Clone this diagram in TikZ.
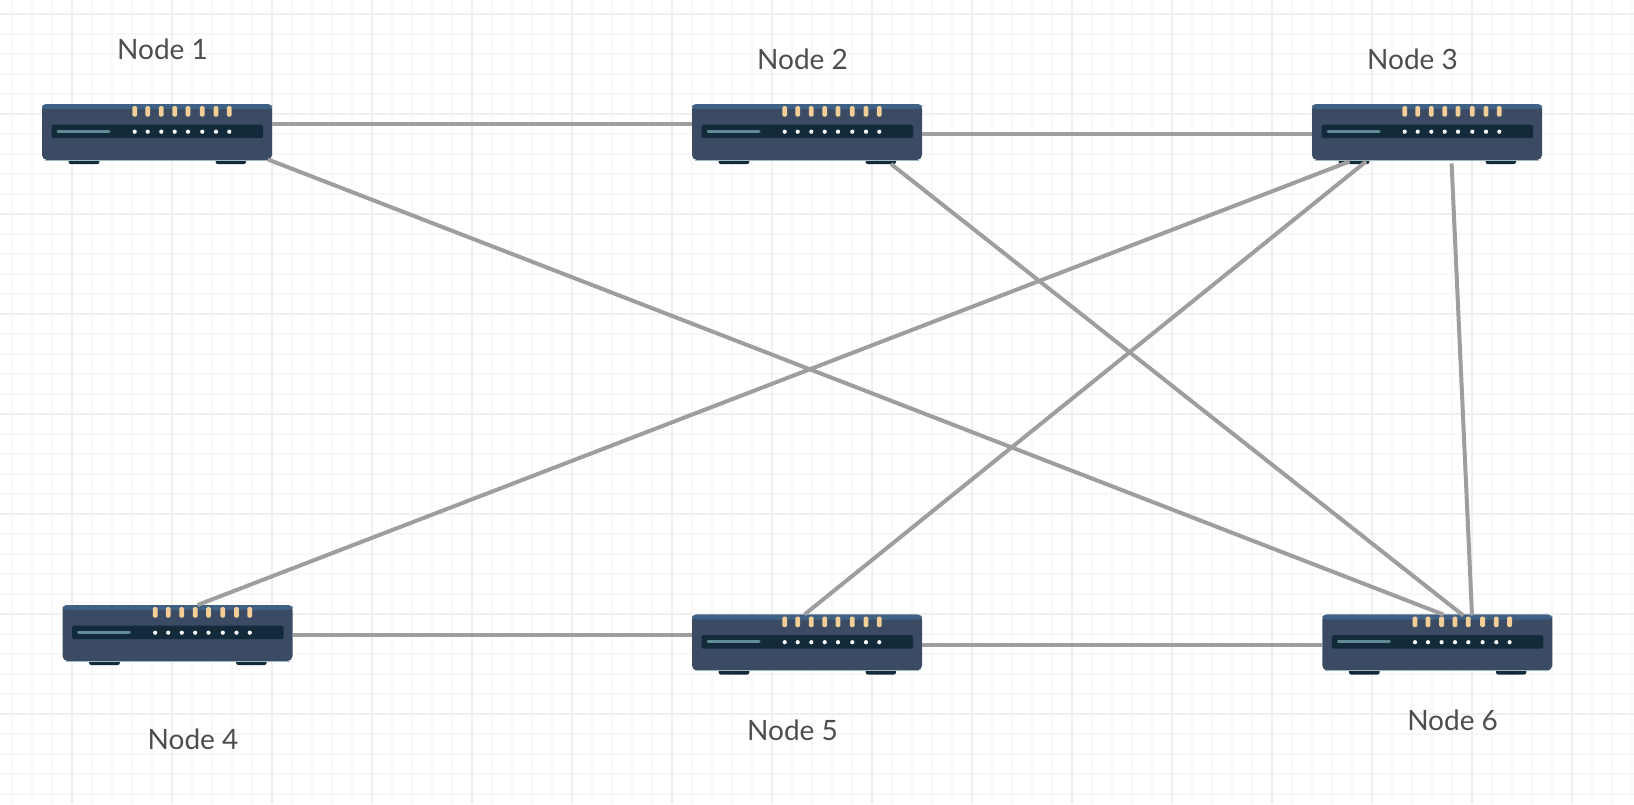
\documentclass[tikz,border=0pt]{standalone}
\usepackage{fontspec}
\setmainfont{Lato}
\usetikzlibrary{calc}
\definecolor{gridminor}{HTML}{F8F8F8}
\definecolor{gridmajor}{HTML}{F0F0F0}
\definecolor{bodyc}{HTML}{3A4B63}
\definecolor{bandc}{HTML}{3F6186}
\definecolor{panelc}{HTML}{122A3A}
\definecolor{barc}{HTML}{5F8B96}
\definecolor{ledc}{HTML}{F3CE97}
\definecolor{linkc}{HTML}{9E9E9E}
\definecolor{textc}{HTML}{4D4D4D}
\tikzset{
  x=1pt,y=-1pt,
  routerbody/.style={anchor=north west,fill=bodyc,draw=none,rounded corners=5pt,minimum width=230pt,minimum height=56pt,inner sep=0pt,outer sep=0pt},
  link/.style={draw=linkc,line width=4pt},
  nodelabel/.style={text=textc,font=\fontsize{28}{32}\selectfont,inner sep=0pt},
  minorgrid/.style={draw=gridminor,line width=1.6pt},
  majorgrid/.style={draw=gridmajor,line width=1.6pt},
}
\newcommand{\routerat}[3]{%
  \begin{scope}[shift={(#2,#3)}]
    \fill[panelc,rounded corners=2pt] (26.7,52) rectangle (57.3,60);
    \fill[panelc,rounded corners=2pt] (173.7,52) rectangle (204,60);
    \node[routerbody] (#1) at (0,0) {};
    \fill[bandc,rounded corners=4pt] (0,0) -- (230,0) -- (230,5) -- (0,5) -- cycle;
    \draw[barc!60!white,line width=0.6pt] (3,56) -- (227,56);
    \fill[panelc,rounded corners=1.5pt] (9.5,20.7) rectangle (221,34);
    \draw[barc,line width=3pt,line cap=round] (16,27) -- (67,27);
    \foreach \lx in {92.7,105.7,119.3,132.7,146,160.3,174,187.3}{
      \fill[ledc,rounded corners=1.5pt] (\lx-2.4,2) rectangle (\lx+2.4,12.7);
      \fill[white] (\lx,27.7) circle (2.1);
    }
  \end{scope}}
\begin{document}
\begin{tikzpicture}
\useasboundingbox (0,0) rectangle (1634,804);
\fill[white] (0,0) rectangle (1634,804);
\foreach \gx in {12,32,...,1632}{\draw[minorgrid] (\gx,0) -- (\gx,804);}
\foreach \gy in {14,34,...,794}{\draw[minorgrid] (0,\gy) -- (1634,\gy);}
\foreach \gx in {72,172,...,1632}{\draw[majorgrid] (\gx,0) -- (\gx,804);}
\foreach \gy in {14,114,...,794}{\draw[majorgrid] (0,\gy) -- (1634,\gy);}
\routerat{n1}{42}{104}
\routerat{n2}{692}{104}
\routerat{n3}{1312}{104}
\routerat{n4}{62.5}{605}
\routerat{n5}{692}{614.5}
\routerat{n6}{1322.3}{614.5}
\node[nodelabel] (l1) at (162.5,49) {Node 1};
\node[nodelabel] (l2) at (802.5,59.5) {Node 2};
\node[nodelabel] (l3) at (1412.5,59.5) {Node 3};
\node[nodelabel] (l4) at (193,739.5) {Node 4};
\node[nodelabel] (l5) at (792.5,730) {Node 5};
\node[nodelabel] (l6) at (1452.6,720.5) {Node 6};
\draw[link] ($(n1.north west)+(230,20)$) -- ($(n2.north west)+(0,20)$);
\draw[link] ($(n2.north west)+(230,30)$) -- ($(n3.north west)+(0,30)$);
\draw[link] ($(n4.north west)+(230,29.5)$) -- ($(n5.north west)+(0,20)$);
\draw[link] ($(n5.north west)+(230,30)$) -- ($(n6.north west)+(0,30)$);
\draw[link] ($(n1.north west)+(226,55.5)$) -- ($(n6.north west)+(121,0)$);
\draw[link] ($(n2.north west)+(199,60)$) -- ($(n6.north west)+(141,1)$);
\draw[link] ($(n3.north west)+(37.5,57.5)$) -- ($(n4.north west)+(135,0)$);
\draw[link] ($(n3.north west)+(54,57.5)$) -- ($(n5.north west)+(112.5,0)$);
\draw[link] ($(n3.north west)+(139.6,59.5)$) -- ($(n6.north west)+(149.7,1)$);
\end{tikzpicture}
\end{document}
